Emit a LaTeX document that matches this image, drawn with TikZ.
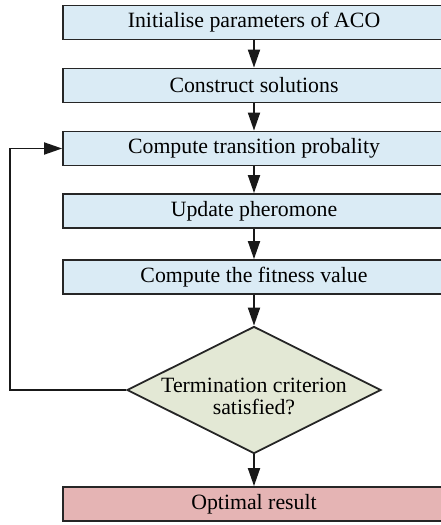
\documentclass[tikz,border=0pt]{standalone}
\usepackage{fontspec}
\setmainfont{Liberation Serif}
\usetikzlibrary{arrows.meta,shapes.geometric}
\definecolor{stepblue}{RGB}{218,235,245}
\definecolor{checkgreen}{RGB}{227,232,213}
\definecolor{endred}{RGB}{229,180,180}
\tikzset{
  process/.style={draw=black!85,line width=1.8pt,fill=stepblue,minimum width=382pt,minimum height=34pt,inner sep=0pt,font=\fontsize{21.8}{26}\selectfont},
  decision/.style={diamond,draw=black!85,line width=1.8pt,fill=checkgreen,minimum width=254pt,minimum height=127pt,inner sep=0pt},
  flow/.style={line width=1.8pt,draw=black!90,-{Triangle[length=18pt,width=12pt]}}
}
\begin{document}
\begin{tikzpicture}[x=1pt,y=-1pt]
      \useasboundingbox (0,0) rectangle (441,525);
      \draw
        (254,22.5) node[process] (init){Initialise parameters of ACO}
        (254,85.5) node[process] (construct){Construct solutions}
        (254,148.5) node[process] (transition){Compute transition probality}
        (254,211) node[process] (pheromone){Update pheromone}
        (254,277) node[process] (fitness){Compute the fitness value}
        (254,390) node[decision] (check){}
        (254,504) node[process,fill=endred] (result){Optimal result};
      \node[font=\fontsize{21.8}{22}\selectfont,align=center] (checktext) at (254,396) {Termination criterion\\satisfied?};
      \begin{scope}[flow]
        \draw (init) to (construct);
        \draw (construct) to (transition);
        \draw (transition) to (pheromone);
        \draw (pheromone) to (fitness);
        \draw (fitness) to (check);
        \draw (check) to (result);
        \draw (check.west) -- ++(-116,0) |- (transition.west);
      \end{scope}
    \end{tikzpicture}
\end{document}
